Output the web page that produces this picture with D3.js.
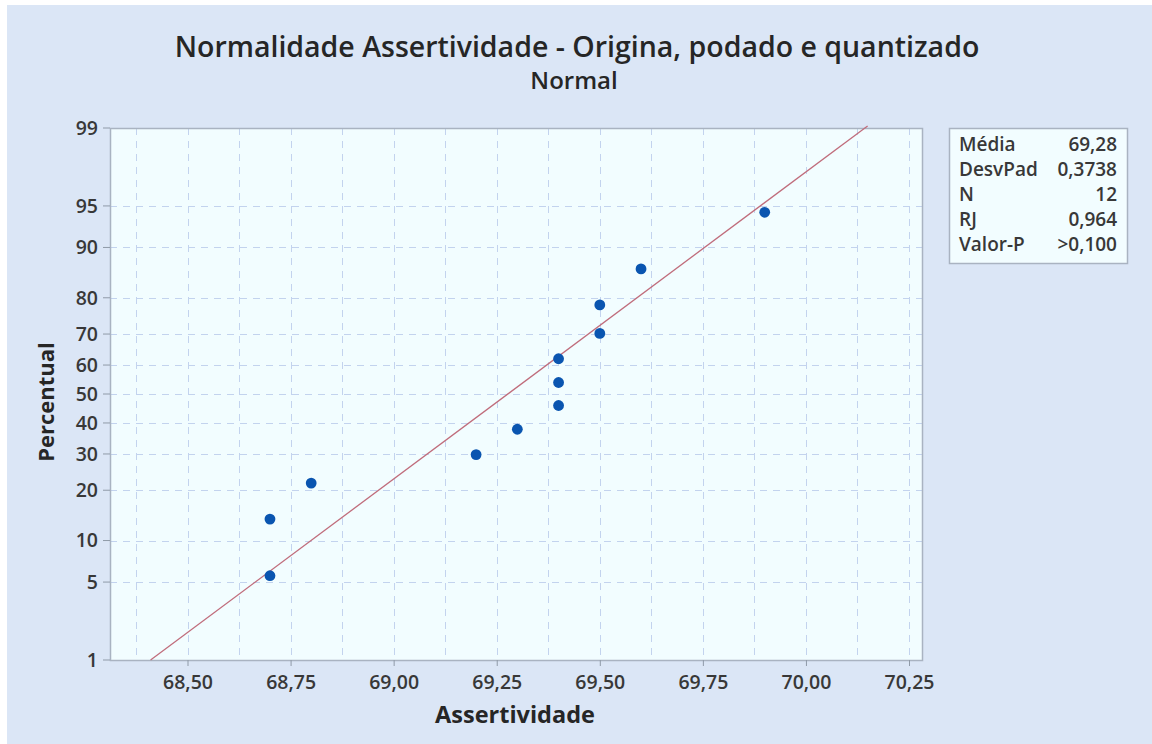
<!DOCTYPE html>
<html>
<head>
<meta charset="utf-8">
<script src="https://cdn.jsdelivr.net/npm/d3@7"></script>
<style>
  html, body { margin: 0; padding: 0; background: #ffffff; }
  svg { display: block; }
  text { font-family: "Open Sans", "Noto Sans", sans-serif; }
</style>
</head>
<body>
<svg id="chart" width="1152" height="744"></svg>
<script>
// ---------- data ----------
const assertividade = [68.7, 68.7, 68.8, 69.2, 69.3, 69.4, 69.4, 69.4, 69.5, 69.5, 69.6, 69.9];
const percentual    = [5.6, 13.7, 21.8, 29.8, 37.9, 46.0, 54.0, 62.1, 70.2, 78.2, 86.3, 94.4];
const xTicks = [68.50, 68.75, 69.00, 69.25, 69.50, 69.75, 70.00, 70.25];
const yTicks = [1, 5, 10, 20, 30, 40, 50, 60, 70, 80, 90, 95, 99];
const statLabels = ["Média", "DesvPad", "N", "RJ", "Valor-P"];
const statValues = ["69,28", "0,3738", "12", "0,964", ">0,100"];
const fitMean = 69.28;
const fitSd = 0.3738;
const titleText = "Normalidade Assertividade - Origina, podado e quantizado";
const subtitleText = "Normal";
const xLabel = "Assertividade";
const yLabel = "Percentual";

// ---------- inverse normal (probit) ----------
function probit(p) {
  const a = [-3.969683028665376e+01, 2.209460984245205e+02, -2.759285104469687e+02, 1.383577518672690e+02, -3.066479806614716e+01, 2.506628277459239e+00];
  const b = [-5.447609879822406e+01, 1.615858368580409e+02, -1.556989798598866e+02, 6.680131188771972e+01, -1.328068155288572e+01];
  const c = [-7.784894002430293e-03, -3.223964580411365e-01, -2.400758277161838e+00, -2.549732539343734e+00, 4.374664141464968e+00, 2.938163982698783e+00];
  const d = [7.784695709041462e-03, 3.224671290700398e-01, 2.445134137142996e+00, 3.754408661907416e+00];
  const pl = 0.02425, ph = 1 - pl;
  let q, r;
  if (p < pl) {
    q = Math.sqrt(-2 * Math.log(p));
    return (((((c[0]*q+c[1])*q+c[2])*q+c[3])*q+c[4])*q+c[5]) / ((((d[0]*q+d[1])*q+d[2])*q+d[3])*q+1);
  } else if (p <= ph) {
    q = p - 0.5; r = q * q;
    return (((((a[0]*r+a[1])*r+a[2])*r+a[3])*r+a[4])*r+a[5])*q / (((((b[0]*r+b[1])*r+b[2])*r+b[3])*r+b[4])*r+1);
  } else {
    q = Math.sqrt(-2 * Math.log(1 - p));
    return -(((((c[0]*q+c[1])*q+c[2])*q+c[3])*q+c[4])*q+c[5]) / ((((d[0]*q+d[1])*q+d[2])*q+d[3])*q+1);
  }
}

// ---------- layout ----------
const svg = d3.select("#chart");
const W = 1152, H = 744;
const plot = { left: 110, top: 128, right: 922, bottom: 660 };

svg.append("rect").attr("x", 0).attr("y", 0).attr("width", W).attr("height", H).attr("fill", "#ffffff");
svg.append("rect").attr("x", 7).attr("y", 5).attr("width", W - 7).attr("height", H - 5).attr("fill", "#dbe6f6");

const x = d3.scaleLinear().domain([68.312, 70.2815]).range([plot.left, plot.right]);
const zScale = d3.scaleLinear().domain([probit(0.01), probit(0.99)]).range([plot.bottom, plot.top]);
const y = p => zScale(probit(p / 100));

// plot background
svg.append("rect")
  .attr("x", plot.left).attr("y", plot.top)
  .attr("width", plot.right - plot.left).attr("height", plot.bottom - plot.top)
  .attr("fill", "#f2fdff");

// gridlines
const grid = svg.append("g").attr("stroke", "#c3d3ee").attr("stroke-width", 1).attr("stroke-dasharray", "7,6");
const xGrid = [];
for (let i = 0; i < xTicks.length; i++) {
  xGrid.push(xTicks[i]);
  xGrid.push(xTicks[i] - 0.125);
}
grid.selectAll("line.vg").data(xGrid.filter(v => x(v) > plot.left + 2 && x(v) < plot.right - 2)).enter()
  .append("line").attr("class", "vg")
  .attr("x1", d => Math.round(x(d)) + 0.5).attr("x2", d => Math.round(x(d)) + 0.5)
  .attr("y1", plot.top).attr("y2", plot.bottom);
grid.selectAll("line.hg").data(yTicks.filter(v => v > 1 && v < 99)).enter()
  .append("line").attr("class", "hg")
  .attr("x1", plot.left).attr("x2", plot.right)
  .attr("y1", d => Math.round(y(d)) + 0.5).attr("y2", d => Math.round(y(d)) + 0.5);

// frame
svg.append("rect")
  .attr("x", plot.left + 0.5).attr("y", plot.top + 0.5)
  .attr("width", plot.right - plot.left).attr("height", plot.bottom - plot.top)
  .attr("fill", "none").attr("stroke", "#a9b3c1").attr("stroke-width", 1.5);

// axes
const xAxis = d3.axisBottom(x).tickValues(xTicks).tickSize(6).tickPadding(9)
  .tickFormat(d => d3.format(".2f")(d).replace(".", ","));
const gx = svg.append("g").attr("transform", `translate(0,${plot.bottom})`).call(xAxis);
gx.select(".domain").remove();
gx.selectAll(".tick line").attr("stroke", "#8f9aa8");
gx.selectAll(".tick text").attr("fill", "#383838").style("font-size", "19.5px").style("font-weight", 600)
  .style("font-family", "'Open Sans', sans-serif");

const gy = svg.append("g").attr("transform", `translate(${plot.left},0)`);
const yt = gy.selectAll("g.tick").data(yTicks).enter().append("g").attr("class", "tick")
  .attr("transform", d => `translate(0,${y(d)})`);
yt.append("line").attr("x1", -7).attr("x2", 0).attr("stroke", "#8f9aa8");
yt.append("text").attr("x", -12).attr("dy", "0.35em").attr("text-anchor", "end")
  .attr("fill", "#383838").style("font-size", "19.5px").style("font-weight", 600).text(d => d);

// fitted line
const fitP = [1, 99];
svg.append("line")
  .attr("x1", x(fitMean + probit(fitP[0] / 100) * fitSd)).attr("y1", y(fitP[0]))
  .attr("x2", x(fitMean + probit(fitP[1] / 100) * fitSd)).attr("y2", y(fitP[1]) - 2)
  .attr("stroke", "#c06d7c").attr("stroke-width", 1.3);

// points
svg.append("g").selectAll("circle").data(assertividade).enter().append("circle")
  .attr("cx", d => x(d)).attr("cy", (d, i) => y(percentual[i]))
  .attr("r", 5.4).attr("fill", "#0a55b0");

// titles
svg.append("text").attr("x", 577).attr("y", 57).attr("text-anchor", "middle")
  .attr("fill", "#262626").style("font-size", "28.5px").style("font-weight", 600).text(titleText);
svg.append("text").attr("x", 574).attr("y", 89).attr("text-anchor", "middle")
  .attr("fill", "#262626").style("font-size", "24px").style("font-weight", 600).text(subtitleText);

svg.append("text").attr("x", 515).attr("y", 723).attr("text-anchor", "middle")
  .attr("fill", "#262626").style("font-size", "23.5px").style("font-weight", 700).text(xLabel);
svg.append("text").attr("transform", "translate(54,402) rotate(-90)").attr("text-anchor", "middle")
  .attr("fill", "#262626").style("font-size", "22px").style("font-weight", 700).text(yLabel);

// stats box
const box = { x: 949, y: 128, w: 178, h: 135 };
svg.append("rect").attr("x", box.x + 0.5).attr("y", box.y + 0.5).attr("width", box.w).attr("height", box.h)
  .attr("fill", "#f2fdff").attr("stroke", "#a9b3c1").attr("stroke-width", 1.5);
const rows = svg.append("g").selectAll("g").data(statLabels).enter().append("g")
  .attr("transform", (d, i) => `translate(0,${box.y + 23 + i * 25})`);
rows.append("text").attr("x", box.x + 10).attr("fill", "#383838")
  .style("font-size", "19px").style("font-weight", 600).text(d => d);
rows.append("text").attr("x", box.x + box.w - 10).attr("text-anchor", "end").attr("fill", "#383838")
  .style("font-size", "19px").style("font-weight", 600).text((d, i) => statValues[i]);
</script>
</body>
</html>
